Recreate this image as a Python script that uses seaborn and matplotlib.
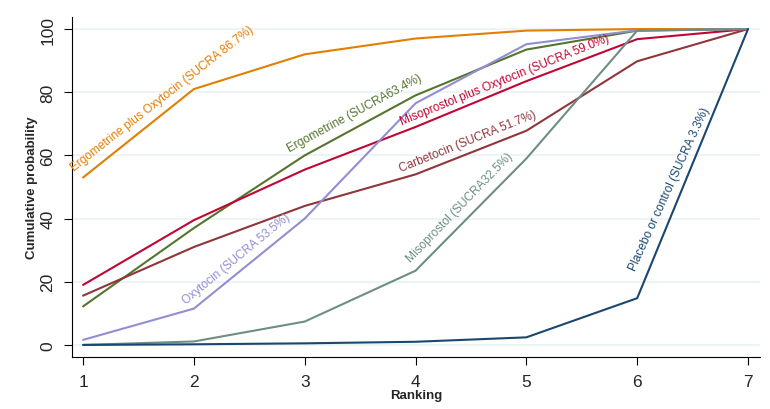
"""
Ranking acumulado (SUCRA) de tratamientos, estilo Stata s2color.
"""

import matplotlib
matplotlib.use("Agg")
import matplotlib.pyplot as plt
import pandas as pd
import seaborn as sns

RANKING = [1, 2, 3, 4, 5, 6, 7]

ERGO_OXY = [53, 81, 92, 97, 99.5, 100, 100]
ERGOMETRINE = [12.2, 37, 60, 79, 93.5, 99.5, 100]
MISO_OXY = [19, 39.5, 55.5, 69, 83.5, 96.8, 100]
CARBETOCIN = [15.6, 31, 44, 54, 67.8, 89.8, 100]
OXYTOCIN = [1.6, 11.5, 40, 76.5, 95.2, 99.6, 100]
MISOPROSTOL = [0, 1.1, 7.4, 23.5, 59, 99.5, 100]
PLACEBO = [0, 0.2, 0.5, 1.0, 2.4, 14.8, 100]

TRATAMIENTOS = {
    "Ergometrine plus Oxytocin": ERGO_OXY,
    "Ergometrine": ERGOMETRINE,
    "Misoprostol plus Oxytocin": MISO_OXY,
    "Carbetocin": CARBETOCIN,
    "Oxytocin": OXYTOCIN,
    "Misoprostol": MISOPROSTOL,
    "Placebo or control": PLACEBO,
}

PALETA = {
    "Ergometrine plus Oxytocin": "#e37e00",
    "Ergometrine": "#55752f",
    "Misoprostol plus Oxytocin": "#c10534",
    "Carbetocin": "#90353b",
    "Oxytocin": "#938dd2",
    "Misoprostol": "#6e8e84",
    "Placebo or control": "#1a476f",
}

# etiqueta, x, y (datos), angulo en pantalla
ETIQUETAS = [
    ("Ergometrine plus Oxytocin", "Ergometrine plus Oxytocin (SUCRA 86.7%)", 0.94, 54.5, 38),
    ("Ergometrine", "Ergometrine (SUCRA63.4%)", 2.88, 60.4, 28.5),
    ("Misoprostol plus Oxytocin", "Misoprostol plus Oxytocin (SUCRA 59.0%)", 3.89, 69.0, 22),
    ("Carbetocin", "Carbetocin (SUCRA 51.7%)", 3.88, 54.1, 22),
    ("Misoprostol", "Misoprostol (SUCRA32.5%)", 3.98, 25.6, 46),
    ("Oxytocin", "Oxytocin (SUCRA 53.5%)", 1.95, 12.3, 39.5),
    ("Placebo or control", "Placebo or control (SUCRA 3.3%)", 6.01, 23, 65.5),
]

filas = []
for nombre, valores in TRATAMIENTOS.items():
    for r, v in zip(RANKING, valores):
        filas.append({"tratamiento": nombre, "ranking": r, "prob": v})
datos = pd.DataFrame(filas)

sns.set_style("white")
plt.rcParams["font.family"] = ["Liberation Sans", "DejaVu Sans"]

fig = plt.figure(figsize=(7.7, 4.1), dpi=100)
ax = fig.add_axes([0.0935, 0.127, 0.8935, 0.829])

for y in [0, 20, 40, 60, 80, 100]:
    ax.axhline(y, color="#eaf2f3", lw=1.2, zorder=0)

sns.lineplot(
    data=datos,
    x="ranking",
    y="prob",
    hue="tratamiento",
    palette=PALETA,
    linewidth=1.5,
    legend=False,
    ax=ax,
)

for clave, texto, x, y, ang in ETIQUETAS:
    ax.text(
        x, y, texto,
        color=PALETA[clave],
        fontsize=8.6,
        rotation=ang,
        rotation_mode="anchor",
        ha="left",
        va="bottom",
    )

ax.set_xlim(0.90, 7.108)
ax.set_ylim(-3.8, 103.8)
ax.set_xticks(RANKING)
ax.set_yticks([0, 20, 40, 60, 80, 100])
ax.tick_params(axis="both", direction="out", length=6, width=0.8,
               labelsize=12.5, pad=6, color="black")
ax.tick_params(axis="x", bottom=True)
ax.tick_params(axis="y", left=True)
for lab in ax.get_yticklabels():
    lab.set_rotation(90)
    lab.set_va("center")
sns.despine(ax=ax)
for s in ["left", "bottom"]:
    ax.spines[s].set_color("black")
    ax.spines[s].set_linewidth(0.8)

ax.set_xlabel("Ranking", fontsize=9.5, fontweight="bold", labelpad=0)
ax.set_ylabel("Cumulative probability", fontsize=9.5, fontweight="bold", labelpad=2)

fig.savefig("out.png", dpi=100, facecolor="white")
